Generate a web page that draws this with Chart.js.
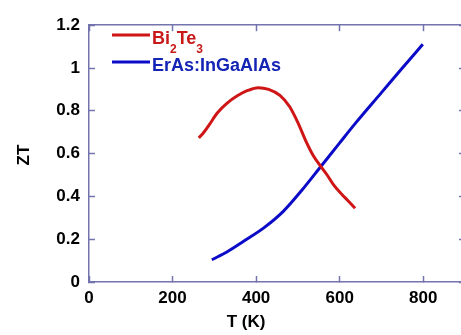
<!DOCTYPE html>
<html>
<head>
<meta charset="utf-8">
<script src="https://cdn.jsdelivr.net/npm/chart.js@4.4.1/dist/chart.umd.min.js"></script>
<style>
html, body { margin: 0; padding: 0; background: #fff; overflow: hidden; }
#wrap { width: 470px; height: 335px; }
</style>
</head>
<body>
<div id="wrap"><canvas id="myChart" width="470" height="335"></canvas></div>
<script>
// values
var bi2te3T = [263, 275, 288, 307, 330, 355, 380, 405, 430, 457, 480, 500, 520, 537, 553, 570, 585, 605, 620, 637];
var bi2te3ZT = [0.673, 0.70, 0.735, 0.79, 0.835, 0.87, 0.895, 0.908, 0.90, 0.872, 0.82, 0.745, 0.655, 0.59, 0.545, 0.50, 0.455, 0.41, 0.38, 0.345];
var erasT = [294, 330, 370, 420, 465, 510, 553, 600, 637, 700, 750, 799];
var erasZT = [0.104, 0.14, 0.19, 0.255, 0.33, 0.43, 0.535, 0.65, 0.74, 0.885, 1.0, 1.111];
var seriesNames = ["Bi", "ErAs:InGaAlAs"];

var axisColor = "#7373ad";
var redColor = "#cf1515";
var blueColor = "#0c0cc8";

function toPoints(xs, ys) {
    var pts = [];
    for (var i = 0; i < xs.length; i++) {
        pts.push({ x: xs[i], y: ys[i] });
    }
    return pts;
}

// axis titles and the legend (subscripts need hand drawing)
var labelPlugin = {
    id: "labels",
    afterDraw: function (chart) {
        var ctx = chart.ctx;
        ctx.save();
        ctx.fillStyle = "#000";
        ctx.font = "bold 17px 'Liberation Sans', Arial, sans-serif";
        ctx.textAlign = "center";
        ctx.textBaseline = "alphabetic";
        ctx.fillText("T (K)", 246, 327);
        ctx.save();
        ctx.translate(29, 155);
        ctx.rotate(-Math.PI / 2);
        ctx.fillText("ZT", 0, 0);
        ctx.restore();

        ctx.lineWidth = 3;
        ctx.strokeStyle = redColor;
        ctx.beginPath(); ctx.moveTo(112, 35); ctx.lineTo(150, 35); ctx.stroke();
        ctx.strokeStyle = blueColor;
        ctx.beginPath(); ctx.moveTo(112, 62); ctx.lineTo(150, 62); ctx.stroke();

        ctx.textAlign = "left";
        var big = "bold 18px 'Liberation Sans', Arial, sans-serif";
        var small = "bold 12px 'Liberation Sans', Arial, sans-serif";
        var tx = 152;
        ctx.fillStyle = "#c81818";
        var parts = [["Bi", big, 44], ["2", small, 53], ["Te", big, 44], ["3", small, 53]];
        parts.forEach(function (p) {
            ctx.font = p[1];
            ctx.fillText(p[0], tx, p[2]);
            tx += ctx.measureText(p[0]).width;
        });
        ctx.fillStyle = "#1424b4";
        ctx.font = big;
        ctx.fillText(seriesNames[1], 152, 71);
        ctx.restore();
    }
};

var tickFont = { family: "'Liberation Sans', Arial, sans-serif", size: 17, weight: "bold" };

// inward tick marks: negative tick length
var inwardGrid = {
    display: true,
    drawOnChartArea: false,
    drawTicks: true,
    tickLength: -6,
    tickColor: axisColor,
    tickWidth: 1.5
};
var frameBorder = { display: true, color: axisColor, width: 1.5 };

new Chart(document.getElementById("myChart"), {
    type: "scatter",
    data: {
        datasets: [
            {
                label: "Bi2Te3",
                data: toPoints(bi2te3T, bi2te3ZT),
                showLine: true,
                borderColor: redColor,
                borderWidth: 3,
                pointRadius: 0,
                cubicInterpolationMode: "monotone"
            },
            {
                label: seriesNames[1],
                data: toPoints(erasT, erasZT),
                showLine: true,
                borderColor: blueColor,
                borderWidth: 3,
                pointRadius: 0,
                cubicInterpolationMode: "monotone"
            }
        ]
    },
    options: {
        responsive: false,
        animation: false,
        layout: { padding: { top: 16, right: 5, left: 0, bottom: 0 } },
        plugins: { legend: { display: false }, tooltip: { enabled: false } },
        scales: {
            x: {
                type: "linear",
                position: "bottom",
                min: 0,
                max: 900,
                grid: inwardGrid,
                border: frameBorder,
                afterFit: function (scale) { scale.height = 53; },
                ticks: {
                    stepSize: 200,
                    includeBounds: false,
                    autoSkip: false,
                    color: "#000",
                    font: tickFont,
                    padding: 12,
                    maxRotation: 0
                }
            },
            x2: {
                type: "linear",
                position: "top",
                min: 0,
                max: 900,
                grid: inwardGrid,
                border: frameBorder,
                afterFit: function (scale) { scale.height = 0; },
                ticks: { stepSize: 200, includeBounds: false, display: false }
            },
            y: {
                type: "linear",
                position: "left",
                min: 0,
                max: 1.2,
                grid: inwardGrid,
                border: frameBorder,
                afterFit: function (scale) { scale.width = 89; },
                ticks: {
                    stepSize: 0.2,
                    autoSkip: false,
                    color: "#000",
                    font: tickFont,
                    padding: 15,
                    callback: function (v) { return String(Number(v.toFixed(1))); }
                }
            },
            y2: {
                type: "linear",
                position: "right",
                min: 0,
                max: 1.2,
                grid: inwardGrid,
                border: frameBorder,
                afterFit: function (scale) { scale.width = 0; },
                ticks: { stepSize: 0.2, display: false }
            }
        }
    },
    plugins: [labelPlugin]
});
</script>
</body>
</html>
